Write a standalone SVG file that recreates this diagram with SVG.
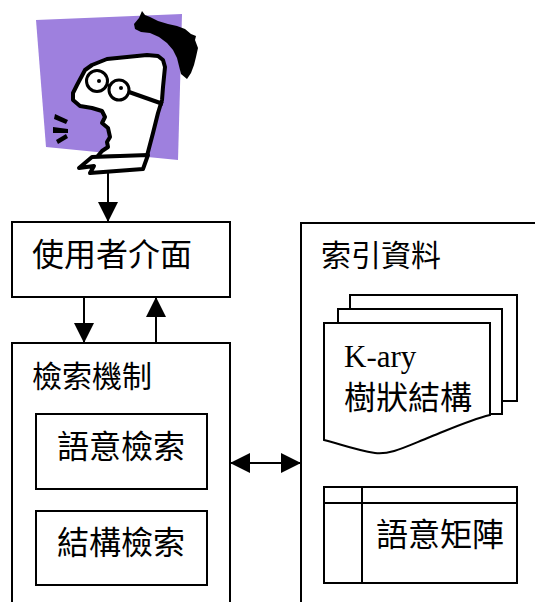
<svg xmlns="http://www.w3.org/2000/svg" width="535" height="602" viewBox="0 0 535 602">
  <style>
    .box { fill: #ffffff; stroke: #000000; stroke-width: 2; }
    .open { fill: none; stroke: #000000; stroke-width: 2; }
    .cjk { font-family: "Noto Sans CJK TC", "Noto Sans CJK SC", sans-serif; font-size: 32px; fill: #000000; }
    .title { font-size: 30px; }
    .latin { font-family: "Liberation Serif", serif; font-size: 31px; fill: #000000; }
    .conn { fill: none; stroke: #000000; stroke-width: 2; }
    .ink { fill: #000000; }
    .line-art { fill: #ffffff; stroke: #000000; stroke-width: 4; stroke-linejoin: round; }
  </style>
  <defs>
    <marker id="head" viewBox="0 0 20 20" refX="20" refY="10" markerWidth="20" markerHeight="20" markerUnits="userSpaceOnUse" orient="auto-start-reverse">
      <path d="M0,0 L20,10 L0,20 Z" fill="#000000"/>
    </marker>
  </defs>

  <rect width="535" height="602" fill="#ffffff"/>

  <!-- user figure -->
  <g id="user">
    <polygon points="36,20 182,14 178,160 46,147" fill="#9e80de"/>
    <path class="ink" d="M142,11 L139,18 L134,24 L135,29 L141,32 L150,33 L159,37 L167,43 L173,50 L177,58 L179,66 L181,74 L187,79 L191,73 L194,65 L196,57 L198,48 L195,40 L196,36 L191,34 L185,29 L177,26 L168,24 L158,21 L150,17 L145,15 Z"/>
    <path class="line-art" d="M85,70 L92,65 L107,59 L127,57 L147,55 L158,56 L163,60 L165,67 L163,87 L162,100 L158,113 L153,133 L148,152 L147,156 L97,157 L102,151 L108,147 L107,142 L110,137 L108,128 L102,123 L105,117 L102,111 L92,108 L80,106 L73,100 L73,93 L77,85 Z"/>
    <path class="line-art" d="M92,157 L148,155 L143,169 L90,173 L94,166 L79,168 Z"/>
    <circle cx="97" cy="81" r="10.5" fill="#ffffff" stroke="#000000" stroke-width="3"/>
    <circle cx="119" cy="90" r="10" fill="#ffffff" stroke="#000000" stroke-width="3"/>
    <circle class="ink" cx="99" cy="81" r="2"/>
    <circle class="ink" cx="121" cy="88" r="2"/>
    <line x1="107" y1="84" x2="110" y2="87" stroke="#000000" stroke-width="2"/>
    <line x1="129" y1="92" x2="163" y2="104" stroke="#000000" stroke-width="4"/>
    <polygon class="ink" points="55,114 68,120 66,124 54,119"/>
    <polygon class="ink" points="53,127 68,129 68,133 53,133"/>
    <polygon class="ink" points="56,140 66,134 68,138 58,144"/>
  </g>

  <!-- user interface -->
  <g id="ui">
    <rect class="box" x="12" y="222" width="218" height="75"/>
    <text class="cjk" x="32" y="266">使用者介面</text>
  </g>

  <!-- retrieval mechanism -->
  <g id="retrieval">
    <path class="open" d="M12,604 V343 H230 V604"/>
    <text class="cjk title" x="32" y="387">檢索機制</text>
  </g>

  <g id="semantic-search">
    <rect class="box" x="36" y="414" width="171" height="75"/>
    <text class="cjk" x="57" y="458">語意檢索</text>
  </g>

  <g id="structure-search">
    <rect class="box" x="36" y="511" width="171" height="74"/>
    <text class="cjk" x="57" y="554">結構檢索</text>
  </g>

  <!-- index data -->
  <g id="index-data">
    <path class="open" d="M301,604 V223 H537"/>
    <text class="cjk title" x="321" y="266">索引資料</text>
  </g>

  <g id="kary-tree">
    <rect class="box" x="350" y="295" width="167" height="106"/>
    <rect class="box" x="338" y="309" width="164" height="105"/>
    <path class="box" d="M324,323 H490 V415 C470,420 455,427 430,437 C405,447 390,455 375,453 C355,450 340,444 324,440 Z"/>
    <text class="latin" x="344" y="367">K-ary</text>
    <text class="cjk" x="344" y="409">樹狀結構</text>
  </g>

  <g id="semantic-matrix">
    <rect class="box" x="324" y="487" width="193" height="96"/>
    <line class="conn" x1="324" y1="503" x2="517" y2="503"/>
    <line class="conn" x1="362" y1="487" x2="362" y2="583"/>
    <text class="cjk" x="376" y="546">語意矩陣</text>
  </g>

  <!-- connectors -->
  <g id="connectors">
    <line class="conn" x1="108" y1="172" x2="108" y2="222" marker-end="url(#head)"/>
    <line class="conn" x1="84" y1="297" x2="84" y2="343" marker-end="url(#head)"/>
    <line class="conn" x1="156" y1="343" x2="156" y2="297" marker-end="url(#head)"/>
    <line class="conn" x1="230" y1="463" x2="301" y2="463" marker-start="url(#head)" marker-end="url(#head)"/>
  </g>
</svg>
